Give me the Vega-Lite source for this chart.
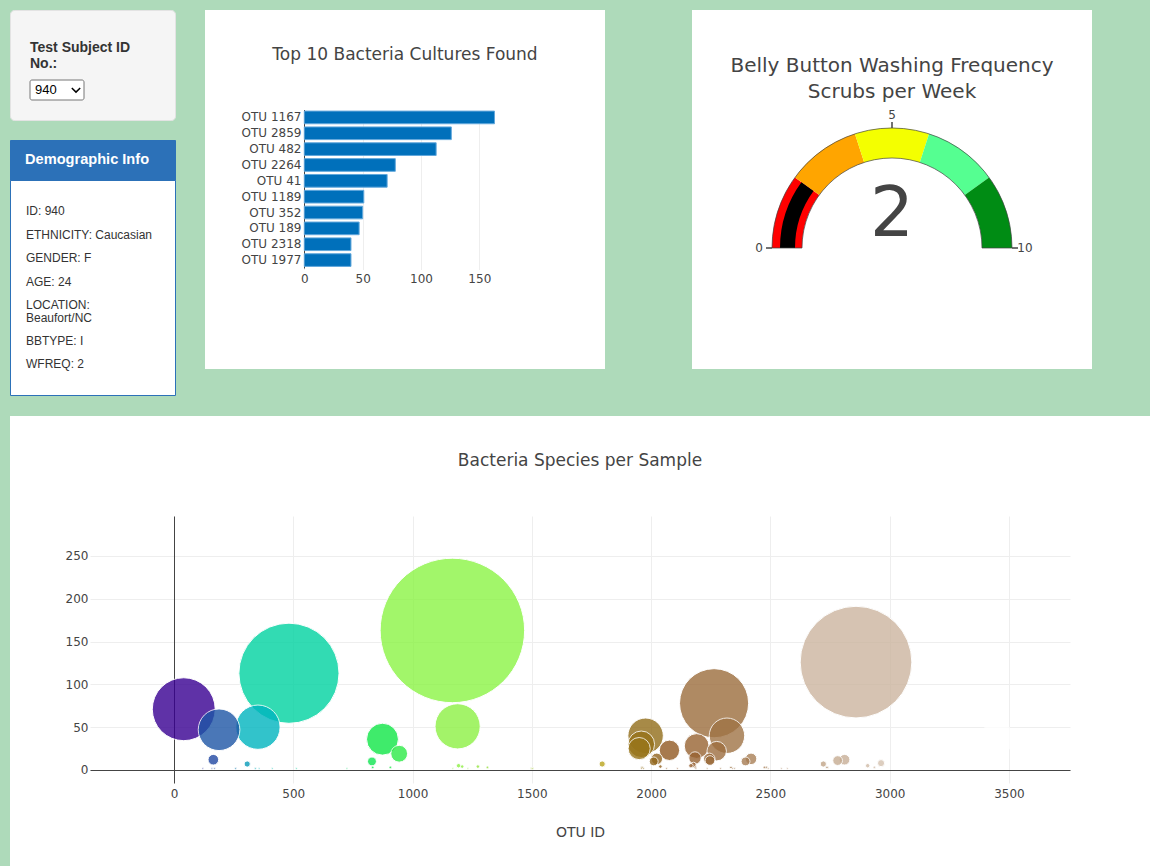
{
  "$schema": "https://vega.github.io/schema/vega-lite/v6.json",
  "background": "#aedaba",
  "padding": {"left": 9, "top": 9, "right": 0, "bottom": 0},
  "config": {
    "font": "DejaVu Sans",
    "view": {"stroke": null},
    "axis": {
      "labelFont": "DejaVu Sans", "labelFontSize": 12, "labelColor": "#444", "labelFlush": false,
      "titleFont": "DejaVu Sans", "titleColor": "#444", "titleFontWeight": "normal",
      "ticks": false, "gridColor": "#eeeeee", "domainColor": "#444444", "domainWidth": 1
    },
    "title": {"font": "DejaVu Sans", "fontWeight": "normal", "color": "#444", "fontSize": 17, "baseline": "alphabetic", "anchor": "middle"}
  },
  "spacing": 20,
  "vconcat": [
    {
      "spacing": 29,
      "hconcat": [
        {
          "spacing": 18,
          "vconcat": [
            {
              "width": 165, "height": 110,
              "view": {"fill": "#f5f5f5", "stroke": "#e3e3e3", "cornerRadius": 4},
              "data": {"values": [{"subject": "940"}]},
              "layer": [
                {
                  "mark": {"type": "rect", "fill": "white", "stroke": "#767676", "strokeWidth": 1, "cornerRadius": 2},
                  "encoding": {
                    "x": {"field": "subject", "type": "nominal", "axis": null, "scale": {"type": "band", "range": [20, 74], "paddingInner": 0, "paddingOuter": 0}},
                    "y": {"field": "subject", "type": "nominal", "axis": null, "scale": {"type": "band", "range": [70, 90], "paddingInner": 0, "paddingOuter": 0}}
                  }
                },
                {
                  "mark": {"type": "text", "align": "left", "baseline": "top", "dy": -39, "font": "Liberation Sans", "fontSize": 14, "fontWeight": "bold", "color": "#333", "lineHeight": 16, "text": ["Test Subject ID", "No.:"]},
                  "encoding": {
                    "x": {"field": "subject", "type": "nominal", "bandPosition": 0, "axis": null, "scale": {"type": "band", "range": [20, 74], "paddingInner": 0, "paddingOuter": 0}},
                    "y": {"field": "subject", "type": "nominal", "bandPosition": 0, "axis": null, "scale": {"type": "band", "range": [70, 90], "paddingInner": 0, "paddingOuter": 0}}
                  }
                },
                {
                  "mark": {"type": "text", "align": "left", "baseline": "middle", "dx": 5, "font": "Liberation Sans", "fontSize": 13, "color": "#000"},
                  "encoding": {
                    "x": {"field": "subject", "type": "nominal", "bandPosition": 0, "axis": null, "scale": {"type": "band", "range": [20, 74], "paddingInner": 0, "paddingOuter": 0}},
                    "y": {"field": "subject", "type": "nominal", "axis": null, "scale": {"type": "band", "range": [70, 90], "paddingInner": 0, "paddingOuter": 0}},
                    "text": {"field": "subject"}
                  }
                },
                {
                  "mark": {"type": "point", "shape": "M-1,-0.5L0,0.5L1,-0.5", "filled": false, "stroke": "#000", "strokeWidth": 1.5, "size": 70, "opacity": 1},
                  "encoding": {
                    "x": {"field": "subject", "type": "nominal", "axis": null, "scale": {"type": "band", "range": [20, 74], "paddingInner": 0, "paddingOuter": 0}},
                    "y": {"field": "subject", "type": "nominal", "axis": null, "scale": {"type": "band", "range": [70, 90], "paddingInner": 0, "paddingOuter": 0}},
                    "xOffset": {"value": 46}
                  }
                }
              ]
            },
            {
              "spacing": 0,
              "bounds": "flush",
              "vconcat": [
                {
                  "width": 165, "height": 40,
                  "view": {"fill": "#2c71b8", "stroke": "#2c71b8"},
                  "data": {"values": [{"heading": "Demographic Info"}]},
                  "mark": {"type": "text", "align": "left", "baseline": "middle", "dx": -67.5, "font": "Liberation Sans", "fontSize": 14.6, "fontWeight": "bold", "color": "white"},
                  "encoding": {"text": {"field": "heading"}}
                },
                {
                  "width": 165, "height": 215,
                  "view": {"fill": "white", "stroke": "#2c71b8"},
                  "data": {"values": [
                    {"n": 0, "info": "ID: 940"},
                    {"n": 1, "info": "ETHNICITY: Caucasian"},
                    {"n": 2, "info": "GENDER: F"},
                    {"n": 3, "info": "AGE: 24"},
                    {"n": 4, "info": "LOCATION:\nBeaufort/NC"},
                    {"n": 5, "info": "BBTYPE: I"},
                    {"n": 6, "info": "WFREQ: 2"}
                  ]},
                  "layer": [
                    {
                      "transform": [{"filter": "datum.n <= 4"}],
                      "mark": {"type": "text", "align": "left", "baseline": "alphabetic", "dx": -66.5, "font": "Liberation Sans", "fontSize": 12, "color": "#333", "lineBreak": "\n", "lineHeight": 13},
                      "encoding": {
                        "y": {"field": "n", "type": "ordinal", "axis": null, "scale": {"type": "point", "range": [35, 176], "padding": 0}},
                        "text": {"field": "info"}
                      }
                    },
                    {
                      "transform": [{"filter": "datum.n > 4"}],
                      "mark": {"type": "text", "align": "left", "baseline": "alphabetic", "dx": -66.5, "dy": 12, "font": "Liberation Sans", "fontSize": 12, "color": "#333"},
                      "encoding": {
                        "y": {"field": "n", "type": "ordinal", "axis": null, "scale": {"type": "point", "range": [35, 176], "padding": 0}},
                        "text": {"field": "info"}
                      }
                    }
                  ]
                }
              ]
            }
          ]
        },
        {
          "spacing": 87,
          "hconcat": [
            {
              "width": 400, "height": 359,
              "view": {"fill": "white"},
              "title": {"text": "Top 10 Bacteria Cultures Found", "offset": -54},
              "data": {"values": [
                {"otu": "OTU 1167", "value": 163},
                {"otu": "OTU 2859", "value": 126},
                {"otu": "OTU 482", "value": 113},
                {"otu": "OTU 2264", "value": 78},
                {"otu": "OTU 41", "value": 71},
                {"otu": "OTU 1189", "value": 51},
                {"otu": "OTU 352", "value": 50},
                {"otu": "OTU 189", "value": 47},
                {"otu": "OTU 2318", "value": 40},
                {"otu": "OTU 1977", "value": 40}
              ]},
              "mark": {"type": "bar", "fill": "#0070bb", "stroke": "#62a8dc", "strokeWidth": 1},
              "encoding": {
                "y": {
                  "field": "otu", "type": "nominal",
                  "sort": ["OTU 1167", "OTU 2859", "OTU 482", "OTU 2264", "OTU 41", "OTU 1189", "OTU 352", "OTU 189", "OTU 2318", "OTU 1977"],
                  "scale": {"range": [99.5, 258], "paddingInner": 0.2, "paddingOuter": 0.1},
                  "axis": {"orient": "left", "offset": -99, "title": null, "domain": true, "labelPadding": 3, "grid": false}
                },
                "x": {
                  "field": "value", "type": "quantitative",
                  "scale": {"domain": [0, 171.5], "range": [99.3, 299.4], "nice": false, "zero": false},
                  "axis": {"orient": "bottom", "offset": -101, "values": [0, 50, 100, 150], "domain": false, "grid": true, "labelPadding": 5, "title": null}
                }
              }
            },
            {
              "spacing": 0,
              "bounds": "flush",
              "vconcat": [
                {
                  "width": 400, "height": 117,
                  "view": {"fill": "white"},
                  "data": {"values": [{"gauge": "wfreq"}]},
                  "mark": {"type": "text", "text": ["Belly Button Washing Frequency", "Scrubs per Week"], "align": "center", "baseline": "middle", "dy": -3, "fontSize": 20, "color": "#444", "lineHeight": 26, "font": "DejaVu Sans"}
                },
                {
                  "width": 400, "height": 242,
                  "view": {"fill": "white"},
                  "layer": [
                    {
                      "data": {"values": [
                        {"lo": 0, "hi": 2, "step": "0-2"},
                        {"lo": 2, "hi": 4, "step": "2-4"},
                        {"lo": 4, "hi": 6, "step": "4-6"},
                        {"lo": 6, "hi": 8, "step": "6-8"},
                        {"lo": 8, "hi": 10, "step": "8-10"}
                      ]},
                      "mark": {"type": "arc", "innerRadius": 90, "outerRadius": 120},
                      "encoding": {
                        "theta": {"field": "lo", "type": "quantitative", "stack": null, "scale": {"domain": [0, 10], "range": [-1.5707963, 1.5707963]}},
                        "theta2": {"field": "hi"},
                        "color": {"field": "step", "type": "nominal", "legend": null, "scale": {"domain": ["0-2", "2-4", "4-6", "6-8", "8-10"], "range": ["#ff0000", "#ffa500", "#f4ff00", "#55ff91", "#008c14"]}}
                      }
                    },
                    {
                      "data": {"values": [{"lo": 0, "wfreq": 2}]},
                      "mark": {"type": "arc", "innerRadius": 97, "outerRadius": 112, "fill": "black"},
                      "encoding": {
                        "theta": {"field": "lo", "type": "quantitative", "stack": null, "scale": {"domain": [0, 10], "range": [-1.5707963, 1.5707963]}},
                        "theta2": {"field": "wfreq"}
                      }
                    },
                    {
                      "data": {"values": [{"lo": 0, "hi": 10}]},
                      "mark": {"type": "arc", "innerRadius": 90, "outerRadius": 120, "fillOpacity": 0, "stroke": "#444", "strokeWidth": 0.7},
                      "encoding": {
                        "theta": {"field": "lo", "type": "quantitative", "stack": null, "scale": {"domain": [0, 10], "range": [-1.5707963, 1.5707963]}},
                        "theta2": {"field": "hi"}
                      }
                    },
                    {
                      "data": {"values": [{"tick": 0}, {"tick": 5}, {"tick": 10}]},
                      "layer": [
                        {
                          "mark": {"type": "arc", "innerRadius": 120, "outerRadius": 126, "fillOpacity": 0, "stroke": "#444", "strokeWidth": 1},
                          "encoding": {
                            "theta": {"field": "tick", "type": "quantitative", "stack": null, "scale": {"domain": [0, 10], "range": [-1.5707963, 1.5707963]}},
                            "theta2": {"field": "tick"}
                          }
                        },
                        {
                          "mark": {"type": "text", "radius": 133, "align": "center", "baseline": "middle", "fontSize": 12, "color": "#444", "font": "DejaVu Sans"},
                          "encoding": {
                            "theta": {"field": "tick", "type": "quantitative", "stack": null, "scale": {"domain": [0, 10], "range": [-1.5707963, 1.5707963]}},
                            "text": {"field": "tick"}
                          }
                        }
                      ]
                    },
                    {
                      "data": {"values": [{"wfreq": 2}]},
                      "mark": {"type": "text", "align": "center", "baseline": "alphabetic", "dy": -12, "fontSize": 69, "color": "#444", "font": "DejaVu Sans"},
                      "encoding": {"text": {"field": "wfreq"}}
                    }
                  ]
                }
              ]
            }
          ]
        }
      ]
    },
    {
      "width": 1140, "height": 450,
      "view": {"fill": "white"},
      "title": {"text": "Bacteria Species per Sample", "offset": -54},
      "data": {"values": [
        {"otu_id": 1167, "sample_value": 163}, {"otu_id": 2859, "sample_value": 126}, {"otu_id": 482, "sample_value": 113},
        {"otu_id": 2264, "sample_value": 78}, {"otu_id": 41, "sample_value": 71}, {"otu_id": 1189, "sample_value": 51},
        {"otu_id": 352, "sample_value": 50}, {"otu_id": 189, "sample_value": 47}, {"otu_id": 2318, "sample_value": 40},
        {"otu_id": 1977, "sample_value": 40}, {"otu_id": 3450, "sample_value": 37}, {"otu_id": 874, "sample_value": 36},
        {"otu_id": 1959, "sample_value": 30}, {"otu_id": 2191, "sample_value": 28}, {"otu_id": 1950, "sample_value": 25},
        {"otu_id": 2077, "sample_value": 23}, {"otu_id": 2275, "sample_value": 22}, {"otu_id": 944, "sample_value": 19},
        {"otu_id": 2184, "sample_value": 14}, {"otu_id": 2244, "sample_value": 13},
        {"otu_id": 2024, "sample_value": 13}, {"otu_id": 2419, "sample_value": 13}, {"otu_id": 2811, "sample_value": 12},
        {"otu_id": 165, "sample_value": 12}, {"otu_id": 2782, "sample_value": 11}, {"otu_id": 2247, "sample_value": 11},
        {"otu_id": 2011, "sample_value": 10}, {"otu_id": 2396, "sample_value": 10}, {"otu_id": 830, "sample_value": 10},
        {"otu_id": 2964, "sample_value": 8}, {"otu_id": 1795, "sample_value": 7}, {"otu_id": 2722, "sample_value": 7},
        {"otu_id": 307, "sample_value": 7}, {"otu_id": 2178, "sample_value": 6}, {"otu_id": 2908, "sample_value": 5},
        {"otu_id": 1193, "sample_value": 5}, {"otu_id": 2167, "sample_value": 5}, {"otu_id": 1208, "sample_value": 4},
        {"otu_id": 2039, "sample_value": 4}, {"otu_id": 1274, "sample_value": 4}, {"otu_id": 2739, "sample_value": 3},
        {"otu_id": 2737, "sample_value": 3}, {"otu_id": 1314, "sample_value": 3}, {"otu_id": 1962, "sample_value": 3},
        {"otu_id": 2186, "sample_value": 3}, {"otu_id": 2335, "sample_value": 3}, {"otu_id": 2936, "sample_value": 3},
        {"otu_id": 907, "sample_value": 3}, {"otu_id": 833, "sample_value": 3}, {"otu_id": 2483, "sample_value": 3},
        {"otu_id": 2475, "sample_value": 3}, {"otu_id": 2491, "sample_value": 2}, {"otu_id": 2291, "sample_value": 2},
        {"otu_id": 159, "sample_value": 2}, {"otu_id": 2571, "sample_value": 2}, {"otu_id": 2350, "sample_value": 2},
        {"otu_id": 2342, "sample_value": 2}, {"otu_id": 2546, "sample_value": 2}, {"otu_id": 725, "sample_value": 2},
        {"otu_id": 170, "sample_value": 2}, {"otu_id": 1505, "sample_value": 2}, {"otu_id": 513, "sample_value": 2},
        {"otu_id": 259, "sample_value": 2}, {"otu_id": 1169, "sample_value": 2}, {"otu_id": 258, "sample_value": 2},
        {"otu_id": 1232, "sample_value": 2}, {"otu_id": 1497, "sample_value": 2}, {"otu_id": 1498, "sample_value": 2},
        {"otu_id": 1503, "sample_value": 2}, {"otu_id": 412, "sample_value": 2}, {"otu_id": 2235, "sample_value": 2},
        {"otu_id": 1960, "sample_value": 2}, {"otu_id": 1968, "sample_value": 2}, {"otu_id": 121, "sample_value": 2},
        {"otu_id": 2065, "sample_value": 2}, {"otu_id": 340, "sample_value": 2}, {"otu_id": 2110, "sample_value": 2},
        {"otu_id": 2188, "sample_value": 2}, {"otu_id": 357, "sample_value": 2}, {"otu_id": 342, "sample_value": 2}
      ]},
      "encoding": {
        "y": {
          "field": "sample_value", "type": "quantitative",
          "scale": {"domain": [-15.2, 296.7], "range": [367, 100], "nice": false, "zero": false},
          "axis": {"orient": "left", "offset": -164, "values": [0, 50, 100, 150, 200, 250], "domain": true, "grid": true, "labelPadding": 86, "title": null}
        },
        "size": {"field": "sample_value", "type": "quantitative", "legend": null, "scale": {"type": "pow", "exponent": 2, "domain": [0, 163], "range": [0, 20867]}},
        "color": {
          "field": "otu_id", "type": "quantitative", "legend": null,
          "scale": {
            "domain": [41, 189, 352, 482, 874, 1167, 1795, 1977, 2100, 2264, 2859, 3450],
            "range": ["#380092", "#1d56a6", "#00b5bf", "#00d3a1", "#10e747", "#8bf445", "#baa41d", "#926d1a", "#925624", "#9c6d3d", "#ccb59f", "#ffffff"],
            "interpolate": "rgb"
          }
        }
      },
      "layer": [
        {
          "mark": {"type": "circle", "opacity": 0},
          "encoding": {
            "x": {
              "field": "otu_id", "type": "quantitative",
              "scale": {"domain": [-352, 3756], "range": [80, 1060], "nice": false, "zero": false},
              "axis": {"orient": "top", "values": [0, 500, 1000, 1500, 2000, 2500, 3000, 3500], "grid": true, "labels": false, "domain": false, "title": null}
            }
          }
        },
        {
          "mark": {"type": "circle", "opacity": 0.8, "stroke": "white", "strokeWidth": 1},
          "encoding": {
            "x": {
              "field": "otu_id", "type": "quantitative",
              "scale": {"domain": [-352, 3756], "range": [80, 1060], "nice": false, "zero": false},
              "axis": {"orient": "bottom", "offset": -96, "values": [0, 500, 1000, 1500, 2000, 2500, 3000, 3500], "format": "d", "domain": true, "grid": false, "labelPadding": 18, "title": "OTU ID", "titleFontSize": 14, "titlePadding": 26}
            }
          }
        }
      ],
      "resolve": {"axis": {"x": "independent"}}
    }
  ]
}
